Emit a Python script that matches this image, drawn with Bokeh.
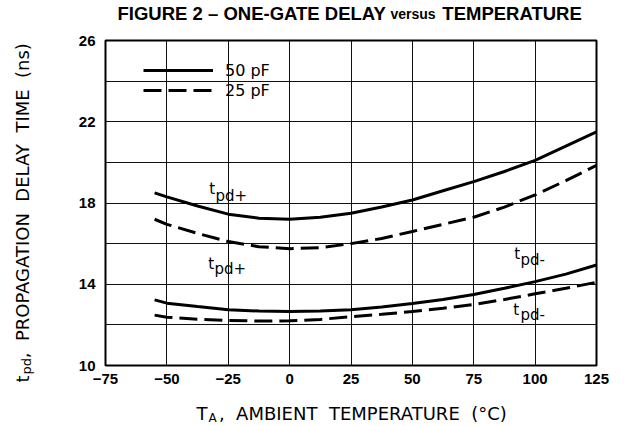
import math
from bokeh.plotting import figure
from bokeh.models import Label, Legend, LegendItem, FixedTicker
from bokeh.embed import file_html
from bokeh.resources import INLINE

# ---- data ----
temps = [-55, -50, -37.5, -25, -12.5, 0, 12.5, 25, 37.5, 50, 62.5, 75, 87.5, 100, 112.5, 125]
tpd_plus_50pF = [18.5, 18.3, 17.85, 17.45, 17.25, 17.2, 17.3, 17.5, 17.8, 18.15, 18.6, 19.05, 19.55, 20.1, 20.8, 21.5]
tpd_plus_25pF = [17.2, 16.95, 16.5, 16.1, 15.85, 15.75, 15.8, 16.0, 16.25, 16.6, 16.95, 17.3, 17.8, 18.4, 19.1, 19.85]
tpd_minus_50pF = [13.23, 13.07, 12.9, 12.75, 12.68, 12.66, 12.68, 12.75, 12.88, 13.05, 13.25, 13.5, 13.8, 14.13, 14.5, 14.95]
tpd_minus_25pF = [12.48, 12.38, 12.28, 12.21, 12.19, 12.2, 12.27, 12.4, 12.52, 12.66, 12.82, 13.0, 13.25, 13.53, 13.8, 14.1]

x_ticks = [-75, -50, -25, 0, 25, 50, 75, 100, 125]
y_ticks = [10, 14, 18, 22, 26]
y_grid = [12, 14, 16, 18, 20, 22, 24]
legend_labels = ["50 pF", "25 pF"]

NB = "\u00a0"
FIX = 6  # baseline correction (px)
W, H = 628, 426
p = figure(width=W, height=H, x_range=(-75, 125), y_range=(10, 26),
           output_backend="svg", toolbar_location=None,
           min_border_left=105, min_border_right=32, min_border_top=40, min_border_bottom=61)
p.title.visible = False
p.background_fill_color = "white"
p.border_fill_color = "white"
p.outline_line_color = "black"
p.outline_line_width = 2

# grid
p.xgrid.ticker = FixedTicker(ticks=x_ticks[1:-1])
p.ygrid.ticker = FixedTicker(ticks=y_grid)
for g in (p.xgrid, p.ygrid):
    g.grid_line_color = "#111111"
    g.grid_line_width = 1

# axes
p.xaxis.ticker = FixedTicker(ticks=x_ticks)
p.yaxis.ticker = FixedTicker(ticks=y_ticks)
for ax in (p.xaxis, p.yaxis):
    ax.axis_line_color = None
    ax.major_tick_line_color = None
    ax.minor_tick_line_color = None
    ax.major_tick_in = 0
    ax.major_tick_out = 0
    ax.minor_tick_out = 0
    ax.major_label_text_font = "Liberation Sans"
    ax.major_label_text_font_style = "bold"
    ax.major_label_text_font_size = "15px"
    ax.major_label_text_color = "black"
p.xaxis.major_label_standoff = 8
p.yaxis.major_label_standoff = 10

# curves
lw = 3
dash = "18 7"
r50p = p.line(temps, tpd_plus_50pF, line_color="black", line_width=lw)
r25p = p.line(temps, tpd_plus_25pF, line_color="black", line_width=lw, line_dash=dash)
p.line(temps, tpd_minus_50pF, line_color="black", line_width=lw)
p.line(temps, tpd_minus_25pF, line_color="black", line_width=lw, line_dash=dash)

legend = Legend(items=[LegendItem(label=legend_labels[0], renderers=[r50p]),
                       LegendItem(label=legend_labels[1], renderers=[r25p])],
                location=(38, 265), glyph_width=70, glyph_height=20, label_height=20,
                label_standoff=12, spacing=0, padding=0, margin=0,
                border_line_color=None, background_fill_alpha=0,
                label_text_font="DejaVu Sans", label_text_font_size="16px",
                label_text_color="black")
p.add_layout(legend)

# curve labels (data units)
def dlab(text, x, y, size=15):
    p.add_layout(Label(x=x, y=y, y_offset=FIX, text=text, text_font="DejaVu Sans",
                       text_font_size=f"{size}px", text_color="black",
                       text_align="left", text_baseline="alphabetic"))

for (tx, ty, sx, sy, sub) in [(-32.7, 18.37, -30.2, 18.07, "pd+"),
                              (-33.1, 14.70, -30.6, 14.45, "pd+"),
                              (91.5, 15.17, 94.0, 14.92, "pd-"),
                              (91.1, 12.45, 94.0, 12.20, "pd-")]:
    dlab("t", tx, ty)
    dlab(sub, sx, sy)

# labels outside the frame: canvas units, hosted in side panels (not clipped)
def slab(side, text, px, py, size, font="DejaVu Sans", style="normal", angle=0.0):
    p.add_layout(Label(x=px, y=py, x_units="canvas", y_units="canvas",
                       text=text, text_font=font, text_font_size=f"{size}px",
                       text_font_style=style, text_color="black", angle=angle,
                       text_align="left", text_baseline="alphabetic"), side)

# title
slab("above", "FIGURE 2 – ONE-GATE DELAY" + NB * 11 + "TEMPERATURE", 117, 19 - FIX, 18.5,
     "Liberation Sans", "bold")
slab("above", "versus", 390, 19 - FIX, 14, "Liberation Sans", "bold")

# x axis title
G = " " + NB
slab("below", "T" + NB * 2 + "," + G + "AMBIENT" + G + "TEMPERATURE" + G + "(°C)",
     196, 419 - FIX, 18)
slab("right", "A", 208, 423 - FIX, 12)

# y axis title (rotated, reading upward)
a = math.pi / 2
slab("left", "t" + NB * 3 + "," + G + "PROPAGATION" + G + "DELAY" + G + "TIME" + G + "(ns)",
     22, 382, 18, angle=a)
slab("left", "pd", 26, 374, 13, angle=a)

open("out.html", "w").write(file_html(p, INLINE))
